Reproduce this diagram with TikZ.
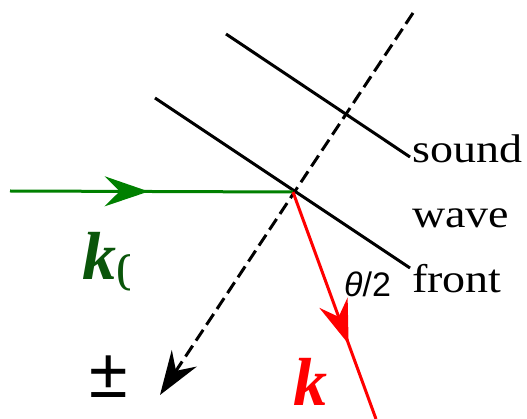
\documentclass[tikz,border=0pt]{standalone}
\usepackage{fontspec}
\setmainfont{Liberation Serif}
\newfontfamily\labelfont[FakeStretch=1.15]{Liberation Serif}
\newfontfamily\anglefont{Liberation Sans}
\usetikzlibrary{arrows.meta,decorations.markings}
\definecolor{beamgreen}{RGB}{0,128,0}
\definecolor{kgreen}{RGB}{10,85,10}
\begin{document}
\begin{tikzpicture}[
  x = 1pt, y = -1pt,
  front/.style = {draw, line width=3pt},
  beam/.style  = {line width=3pt},
  head/.tip    = {Stealth[length=44pt, width=30pt, inset=15pt]},
  midhead/.style = {postaction={decorate}, decoration={markings,
                    mark=at position #1 with {\arrow{head}}}},
  words/.style = {anchor=base west, inner sep=0pt,
                  font=\labelfont\fontsize{40}{40}\selectfont},
]
\useasboundingbox (0,0) rectangle (527,419);

% points of the scattering geometry
\coordinate (src)   at (10,191);
\coordinate (hit)   at (293,192);
\coordinate (ktail) at (376,419);
\coordinate (dtop)  at (413,13);
\coordinate (dtip)  at (160,395);

% the two wave fronts
\coordinate (fa1) at (155,98);
\coordinate (fa2) at (410,268);
\coordinate (fb1) at (226,34);
\coordinate (fb2) at (410,157);
\draw[front] (fa1) -- (fa2);
\draw[front] (fb1) -- (fb2);

% dashed normal to the fronts
\draw[line width=3pt, dash pattern=on 13pt off 6pt, -{head}] (dtop) -- (dtip);

% incident and scattered beams
\draw[beam, beamgreen, midhead=0.49] (src) -- (hit);
\draw[beam, red, midhead=0.67] (hit) -- (ktail);

\foreach \y/\word in {163/sound, 228/wave, 293/front}{%
  \node[words] (w-\word) at (412,\y) {\word};
}

\node[anchor=base west, inner sep=0pt, font=\anglefont\fontsize{34}{34}\selectfont]
  (half) at (344,297) {{\itshape θ}/2};

\node[anchor=base west, inner sep=0pt, red, font=\fontsize{68}{68}\selectfont\bfseries\itshape]
  (kout) at (293,405) {k};

\begin{scope}
  \clip (60,200) rectangle (129,310);
  \node[anchor=base west, inner sep=0pt, kgreen, font=\fontsize{68}{68}\selectfont]
    (kin) at (82,280) {{\bfseries\itshape k}\raisebox{-10pt}{\fontsize{54}{54}\selectfont 0}};
\end{scope}

\node[anchor=base west, inner sep=0pt, font=\anglefont\fontsize{70}{70}\selectfont]
  (pm) at (89,397) {±};
\end{tikzpicture}
\end{document}
